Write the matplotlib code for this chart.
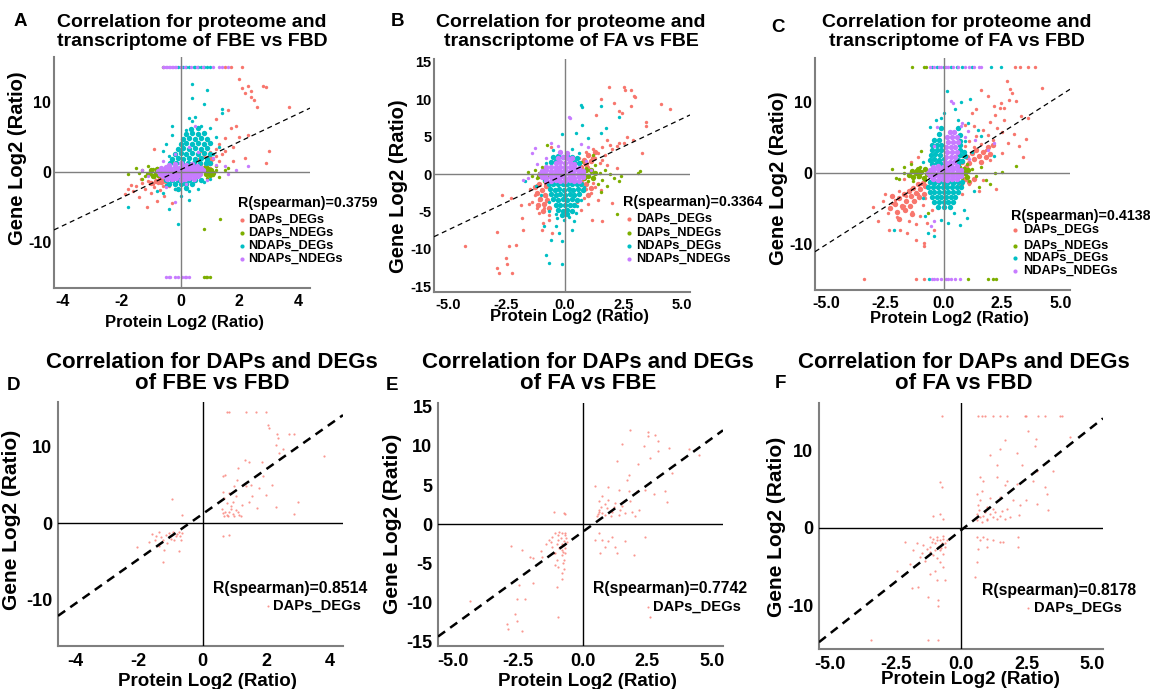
import numpy as np
import matplotlib
matplotlib.use('Agg')
import matplotlib.pyplot as plt
from matplotlib.lines import Line2D

plt.rcParams['font.family'] = ['Liberation Sans', 'DejaVu Sans']
plt.rcParams['font.weight'] = 'bold'
plt.rcParams['axes.unicode_minus'] = False

W, H = 1150, 689

RED = '#F8766D'
GREEN = '#7CAE00'
CYAN = '#00BFC4'
MAGENTA = '#C77CFF'

labels_4 = ['DAPs_DEGs', 'DAPs_NDEGs', 'NDAPs_DEGs', 'NDAPs_NDEGs']

# ---------------- panel A : FBE vs FBD (all genes) ----------------
a_red = [(-1.9,-3.2),(-1.8,-2.5),(-1.7,-1.9),(-1.6,-2.8),(-1.5,-2.0),(-1.4,-3.6),(-1.35,-1.0),(-1.3,-1.6),
         (-1.2,-2.4),(-1.15,-5.0),(-1.1,-1.3),(-1.05,-1.4),(-1.0,-3.0),(-0.95,-1.8),(-0.9,-2.2),(-0.9,3.3),
         (-0.85,-1.2),(-0.8,-4.1),(-0.75,-1.6),(-0.7,-2.6),(-0.7,-0.9),(-0.65,-1.0),(-0.6,-1.4),(-0.6,-2.0),
         (-0.55,-3.5),(-0.5,-1.8),(-0.45,-1.1),(-0.4,-2.0),(-0.3,-4.5),(-0.2,-2.5),
         (0.4,0.9),(0.5,1.2),(0.6,1.8),(0.7,1.1),(0.7,3.0),(0.8,2.4),(0.9,1.5),(0.9,4.5),(1.0,1.3),(1.0,2.8),
         (1.0,0.6),(1.1,1.9),(1.2,2.2),(1.2,3.2),(1.2,7.5),(1.3,1.6),(1.3,4.0),(1.4,2.6),(1.5,4.8),(1.5,3.0),
         (1.6,8.8),(1.7,6.3),(1.8,3.5),(1.8,1.5),(1.9,6.5),(2.0,5.0),(2.0,13.2),(2.1,12.0),(2.2,11.3),(2.2,2.0),
         (2.3,12.3),(2.3,5.3),(2.4,10.7),(2.4,11.5),(2.5,10.2),(2.6,9.3),(2.8,12.2),(2.9,12.1),(2.9,1.3),
         (3.0,3.0),(3.7,9.2),(1.5,15),(1.7,15),(2.1,15)]
a_red_core = [(-0.85,-1.3),(-0.7,-1.0),(-0.65,-1.5),(-0.55,-1.2),(-1.0,-1.6),(0.85,1.1),(0.95,1.5),
              (1.05,1.9),(1.0,1.2),(0.9,2.0)]
a_green = [(-1.8,-0.3),(-1.5,0.6),(-1.4,-0.2),(-1.3,0.2),(-1.3,-1.0),(-1.2,-0.6),(-1.1,0.8),(-1.0,-0.3),
           (-0.95,0.4),(-0.9,-0.8),(-0.85,0.1),(-0.8,0.6),(-0.75,-0.4),(-0.7,0.3),(-0.5,-0.5),(-0.3,1.5),
           (0.8,0.7),(0.9,-0.9),(0.95,-0.2),(1.0,0.4),(1.1,-0.4),(1.2,0.2),(1.2,0.9),(1.3,-0.7),(1.5,0.3),
           (1.6,0.6),(1.35,-6.8),(0.8,-8.2),(-0.6,15),(0.8,-15),(0.85,-15),(0.9,-15),(1.0,-15)]
a_green_core = [(-1.1,-0.3),(-1.0,0.2),(-0.95,-0.6),(-0.85,-0.1),(-0.8,0.4),(-0.75,-0.5),(-0.7,0.0),
                (0.8,0.3),(0.85,-0.3),(0.9,0.6),(0.95,0.0),(1.0,-0.5),(1.05,0.3),(1.1,-0.1)]
a_cyan = [(0.4,12.6),(0.9,11.7),(0.4,10.5),(0.8,9.7),(1.4,9.0),(1.4,8.4),(0.3,7.7),(0.5,7.8),(0.4,7.2),
          (-0.3,6.6),(1.0,6.3),(0.7,6.5),(0.2,6.0),(0.6,5.4),(-0.3,5.2),(1.2,5.0),(-0.5,4.0),(1.3,3.5),
          (-0.6,3.0),(1.1,2.5),(-0.4,2.2),(1.0,-1.0),(0.8,-1.5),(-0.5,-1.9),(-0.2,-2.4),(0.6,-2.5),
          (-0.8,-2.7),(0.3,-2.8),(-0.6,-3.0),(0.0,-3.5),(0.3,-4.0),(-0.4,-5.3),(-1.8,-5.0),(-0.1,-7.5),
          (-0.1,15),(0.0,15),(0.1,15),(0.2,15),(0.3,15),(0.45,15),(0.5,15),(0.6,15),(0.7,15),(0.8,15),(0.9,15),(1.0,15)]
a_cyan_core = [(-0.35,1.2),(-0.15,1.3),(0.05,1.2),(0.25,1.3),(0.45,1.2),(0.65,1.3),(0.85,1.2),(1.0,1.3),
               (-0.3,1.9),(-0.1,2.0),(0.1,1.9),(0.3,2.0),(0.5,1.9),(0.7,2.0),(0.9,1.9),
               (-0.2,2.6),(0.0,2.7),(0.2,2.6),(0.4,2.7),(0.6,2.6),(0.8,2.7),(1.0,2.6),
               (-0.1,3.3),(0.1,3.4),(0.3,3.3),(0.5,3.4),(0.7,3.3),(0.9,3.4),
               (0.0,4.0),(0.2,4.1),(0.4,4.0),(0.6,4.1),(0.8,4.0),(1.0,4.1),
               (0.1,4.7),(0.3,4.8),(0.5,4.7),(0.7,4.8),(0.9,4.7),
               (0.2,5.4),(0.4,5.5),(0.6,5.4),(0.8,5.5),(0.35,6.1),(0.6,6.2),
               (-0.5,-1.1),(-0.3,-1.2),(-0.1,-1.1),(0.1,-1.2),(0.3,-1.1),(0.5,-1.2),(0.7,-1.1),
               (-0.4,-1.7),(-0.2,-1.8),(0.0,-1.7),(0.2,-1.8),(0.4,-1.7),(-0.1,-2.4),(0.2,-2.3)]
a_magenta = [(-0.6,15),(-0.55,15),(-0.5,15),(-0.45,15),(-0.4,15),(-0.35,15),(-0.3,15),(-0.25,15),(-0.2,15),
             (-0.15,15),(0.0,15),(0.15,15),(0.35,15),(0.55,15),(0.75,15),(1.1,15),(1.3,15),(1.4,15),(1.6,15),
             (-0.5,-15),(-0.4,-15),(-0.35,-15),(-0.2,-15),(-0.1,-15),(0.05,-15),(0.15,-15),(0.2,-15),(0.3,-15),
             (1.5,0.8),(2.3,0.8),(1.6,-0.3),(1.1,2.0),(0.5,6.5),(-0.6,1.6),(-1.3,0.2),(-0.5,-2.2),(0.9,-1.2),
             (0.3,3.5),(0.6,2.8),(-0.2,2.6),(1.2,1.0),(1.9,0.3),(-1.1,-0.6),(0.2,-1.8),(-0.2,-4.3)]
a_magenta_core = [(-0.4,1.0),(-0.2,1.1),(0.0,1.2),(0.2,1.0),(0.4,1.1),(0.55,0.9),
                  (-0.65,0.5),(-0.5,0.7),(-0.35,0.6),(-0.2,0.7),(-0.05,0.6),(0.1,0.7),(0.25,0.6),(0.4,0.7),(0.55,0.6),(0.7,0.5),
                  (-0.75,0.1),(-0.6,0.25),(-0.45,0.2),(-0.3,0.15),(-0.15,0.25),(0.0,0.2),(0.15,0.15),(0.3,0.25),(0.45,0.2),(0.6,0.15),(0.75,0.25),
                  (-0.7,-0.25),(-0.55,-0.2),(-0.4,-0.15),(-0.25,-0.25),(-0.1,-0.2),(0.05,-0.15),(0.2,-0.25),(0.35,-0.2),(0.5,-0.15),(0.65,-0.25),
                  (-0.6,-0.6),(-0.45,-0.65),(-0.3,-0.55),(-0.15,-0.65),(0.0,-0.6),(0.15,-0.55),(0.3,-0.65),(0.45,-0.6),(0.6,-0.55),
                  (-0.45,-1.0),(-0.3,-1.05),(-0.15,-0.95),(0.0,-1.1),(0.15,-1.0),(0.3,-0.95),(0.45,-1.05)]

# ---------------- panel B : FA vs FBE (all genes) ----------------
b_red = [(1.88,11.7),(2.52,11.6),(2.56,11.2),(2.8,11.3),(2.95,10.5),(2.99,10.3),(1.55,10.1),(2.1,9.5),
         (2.8,9.15),(2.45,8.2),(4.09,9.4),(4.47,8.75),(1.31,7.9),(2.3,8.4),(3.45,7.0),(3.45,6.4),(3.3,2.8),
         (2.66,5.0),(2.3,4.2),(2.0,3.3),(1.6,1.9),(2.0,-3.9),(1.17,-6.1),(1.6,-6.25),(-4.27,-9.7),(-2.9,-7.7),
         (-2.4,-9.6),(-2.1,-9.5),(-2.53,-11.3),(-2.46,-12.1),(-2.89,-12.6),(-2.82,-13.3),(-2.25,-13.3),
         (-2.68,-2.8),(-2.32,-3.2),(-1.9,-4.1),(-1.82,-5.9),(-1.8,-7.5),(-1.54,-4.0),(-1.1,-5.2),(-0.97,-7.5),
         (-0.54,-7.9),(-0.68,-6.1),(-1.5,-2.0),(-1.3,-2.8),(-1.2,-1.5),(-1.1,-3.5),(-1.0,-2.2),(-0.9,-4.5),
         (-0.85,-1.2),(-0.8,-3.0),(-0.7,-5.5),(-0.65,-2.0),(-1.4,-3.8),(-0.95,-6.5),(-1.2,-4.6),(0.6,-2.5),
         (0.7,-1.5),(0.8,-3.2),(0.9,-2.0),(1.0,-4.0),(1.1,-2.6),(1.2,-1.2),(0.6,2.2),(0.8,1.5),(0.9,3.0),
         (1.0,2.4),(1.1,1.8),(1.2,3.4),(1.3,2.2),(1.4,2.8),(1.5,1.5),(1.6,3.6),(1.7,2.5),(1.0,1.0),(1.8,4.6),
         (1.9,3.9),(2.2,3.7),(2.5,4.2),(1.4,-3.5),(1.55,-2.2),(0.7,-4.8),(2.9,4.6),(-0.6,3.6),(1.3,-1.8),
         (0.5,-3.8),(1.8,1.2),(2.2,0.8)]
b_red_core = [(-1.3,-1.8),(-1.2,-2.6),(-1.1,-1.4),(-1.05,-3.3),(-1.0,-2.1),(-0.9,-4.0),(-0.85,-2.8),
              (-0.8,-1.6),(-0.75,-3.5),(-0.7,-4.6),(-0.95,-5.0),(-1.15,-4.2),
              (0.7,1.0),(0.8,1.9),(0.9,1.3),(1.0,2.6),(1.1,1.7),(1.2,2.2),(1.3,3.0),
              (0.7,-1.1),(0.8,-2.0),(0.9,-1.4),(1.0,-2.8),(1.1,-1.9)]
b_green = [(-1.6,0.3),(-1.4,-0.2),(-1.3,0.5),(-1.2,-0.6),(-1.1,0.2),(-1.0,1.0),(-0.9,-0.9),(-0.85,0.3),
           (-0.7,-0.3),(-0.78,3.9),(0.6,0.4),(0.7,1.6),(0.8,-0.3),(0.9,0.8),(1.0,-1.0),(1.1,0.3),(1.2,-0.5),
           (1.2,2.5),(1.3,1.2),(1.4,-1.4),(1.5,0.2),(1.6,-0.8),(1.7,0.5),(1.8,-1.6),(1.9,0.0),(2.1,-0.5),
           (2.3,-0.9),(2.4,-0.3),(1.55,-2.4),(3.1,0.2),(3.2,0.4),(2.2,-5.3)]
b_green_core = [(-1.1,-0.3),(-1.0,0.3),(-0.9,-0.4),(-0.85,0.5),(0.7,0.2),(0.8,-0.5),(0.9,0.5),(1.0,-0.2),
                (1.1,0.6),(1.2,-0.6),(1.3,0.2)]
b_cyan = [(0.67,9.3),(0.74,9.0),(1.52,9.1),(2.3,7.7),(0.71,6.5),(-0.11,5.3),(0.46,5.5),(1.0,4.8),(1.52,5.5),
          (1.74,6.2),(-1.25,-1.65),(-1.04,-2.8),(-0.61,-8.8),(-0.4,-7.0),(-0.04,-6.1),(0.31,-7.5),
          (-0.83,-10.8),(-0.68,-11.9),(-0.11,-12.1),(-0.9,-7.0),(0.46,-5.2),(0.17,-5.7),(-0.33,-5.9),
          (-0.26,-7.9),(-0.5,3.2),(0.3,3.3),(0.6,2.8),(-0.8,1.5),(-0.9,-0.8),(0.8,-1.8),(0.7,-3.5),
          (-0.7,-3.8),(0.5,-4.3),(-0.4,-5.4),(0.4,-6.3),(-0.7,-5.0),(-1.7,-1.0),(-0.15,-9.0)]
b_cyan_core = [(-0.5,2.3),(-0.3,2.4),(-0.1,2.3),(0.1,2.4),(0.3,2.3),(0.5,2.2),
               (-0.6,1.6),(-0.4,1.7),(0.4,1.6),(0.6,1.5),
               (-0.7,-1.3),(-0.5,-1.4),(-0.3,-1.3),(-0.1,-1.4),(0.1,-1.3),(0.3,-1.4),(0.5,-1.3),(0.7,-1.4),
               (-0.65,-2.0),(-0.45,-2.1),(-0.25,-2.0),(-0.05,-2.1),(0.15,-2.0),(0.35,-2.1),(0.55,-2.0),(0.75,-2.1),
               (-0.6,-2.7),(-0.4,-2.8),(-0.2,-2.7),(0.0,-2.8),(0.2,-2.7),(0.4,-2.8),(0.6,-2.7),
               (-0.5,-3.4),(-0.3,-3.5),(-0.1,-3.4),(0.1,-3.5),(0.3,-3.4),(0.5,-3.5),
               (-0.4,-4.1),(-0.2,-4.2),(0.0,-4.1),(0.2,-4.2),(0.4,-4.1),
               (-0.3,-4.8),(-0.1,-4.9),(0.1,-4.8),(0.3,-4.9),(-0.15,-5.5),(0.1,-5.4)]
b_magenta = [(-1.3,3.5),(-1.4,2.8),(-0.6,4.2),(0.17,7.7),(0.2,7.5),(-0.3,3.8),(0.7,4.0),(1.0,3.6),
             (-1.6,-0.5),(-1.2,1.4),(1.1,0.5),(-0.8,2.2),(0.9,1.8),(-1.8,-0.8)]
b_magenta_core = [(-0.8,0.9),(-0.6,1.0),(-0.4,0.9),(-0.2,1.0),(0.0,0.9),(0.2,1.0),(0.4,0.9),(0.6,0.8),
                  (-1.0,0.4),(-0.8,0.5),(-0.6,0.45),(-0.4,0.5),(-0.2,0.4),(0.0,0.5),(0.2,0.45),(0.4,0.5),(0.6,0.4),(0.75,0.45),
                  (-1.05,0.0),(-0.85,0.05),(-0.65,0.0),(-0.45,0.05),(-0.25,0.0),(-0.05,0.05),(0.15,0.0),(0.35,0.05),(0.55,0.0),(0.75,0.05),
                  (-1.0,-0.45),(-0.8,-0.5),(-0.6,-0.4),(-0.4,-0.5),(-0.2,-0.45),(0.0,-0.5),(0.2,-0.4),(0.4,-0.5),(0.6,-0.45),(0.75,-0.4),
                  (-0.8,-0.9),(-0.6,-0.95),(-0.4,-0.85),(-0.2,-0.95),(0.0,-0.9),(0.2,-0.85),(0.4,-0.95),(0.6,-0.9),
                  (-0.4,1.5),(-0.2,1.6),(0.0,1.5),(0.2,1.6),(0.4,1.4),(-0.3,2.2),(-0.1,2.3),(0.1,2.2),(0.3,2.1),
                  (-0.2,2.9),(0.1,2.8)]

# ---------------- panel C : FA vs FBD (all genes) ----------------
c_red = [(0.5,1.5),(0.6,2.5),(0.7,3.2),(0.8,1.8),(0.9,3.8),(1.0,2.2),(1.1,4.5),(1.2,2.9),(1.3,3.6),(1.4,5.2),
         (1.5,2.4),(1.6,4.1),(1.7,6.0),(1.8,3.3),(1.9,5.4),(2.0,7.2),(2.1,4.6),(2.2,8.1),(2.3,6.4),(2.4,9.2),
         (2.5,5.8),(2.6,7.5),(2.7,12.9),(2.85,11.8),(2.9,11.3),(2.8,10.3),(2.45,9.9),(2.15,9.4),(1.6,11.7),
         (1.9,10.8),(3.3,8.0),(3.6,7.7),(3.4,2.3),(3.2,3.8),(2.75,4.2),(2.25,-2.3),(4.2,12.0),(1.2,8.4),
         (1.4,9.0),(0.9,6.8),(2.0,1.8),(2.5,2.8),(1.1,-1.5),(1.5,-2.5),(0.8,-3.0),(3.0,5.5),(3.5,4.8),
         (1.7,-1.0),(1.3,6.6),(2.6,9.2),(3.1,10.2),
         (-2.5,-3.0),(-2.4,-5.6),(-2.35,-8.0),(-2.2,-4.2),(-2.1,-3.8),(-2.0,-6.2),(-1.9,-2.5),(-1.85,-8.0),
         (-1.8,-5.0),(-1.7,-4.7),(-1.6,-3.2),(-1.55,-8.5),(-1.5,-6.8),(-1.4,-2.2),(-1.35,-5.5),(-1.3,-4.0),
         (-1.2,-7.2),(-1.1,-3.0),(-1.0,-6.0),(-0.95,-1.6),(-0.9,-4.5),(-0.85,-10.3),(-0.85,-9.9),(-0.8,-3.5),
         (-0.7,-7.0),(-0.6,-2.6),(-0.5,-5.2),(-3.0,-4.8),(-2.8,-6.8),(-2.6,-3.9),(-1.2,-9.4),(-0.4,-8.0),
         (-1.7,-0.8),(-0.3,-2.0),(-1.1,2.2),(-1.4,1.5),
         (3.03,15),(3.25,15),(3.6,15),(3.9,15),(-3.4,-15),(-1.19,-15),(-0.83,-15)]
c_red_core = [(-2.3,-5.0),(-2.1,-4.4),(-2.0,-5.5),(-1.9,-3.6),(-1.8,-4.6),(-1.7,-3.0),(-1.65,-5.2),
              (-1.6,-3.9),(-1.5,-2.6),(-1.45,-4.6),(-1.4,-3.3),(-1.3,-2.1),(-1.25,-4.0),(-1.2,-2.8),
              (-1.1,-1.6),(-1.05,-3.4),(-1.0,-2.3),(-0.9,-1.4),(-0.85,-2.9),(-0.8,-1.9),(-1.35,-5.8),
              (-1.9,-6.5),(-2.2,-3.3),
              (0.65,0.9),(0.8,1.5),(0.95,0.9),(1.0,2.2),(1.1,1.4),(1.2,2.8),(1.3,1.9),(1.4,3.3),(1.5,2.4),
              (1.6,1.5),(1.7,3.0),(1.8,2.2),(1.9,3.6),(2.0,2.6),(2.1,4.0),(0.9,-0.9),(1.1,-1.3),(0.75,-1.6),
              (1.3,-0.8)]
c_green = [(-2.2,0.5),(-2.05,-0.7),(-1.9,-0.8),(-1.7,0.9),(-1.69,0.0),(-1.5,-0.2),(-1.4,1.2),(-1.3,-1.2),
           (-1.2,0.4),(-1.1,-0.6),(-1.0,0.8),(-0.97,3.05),(-0.8,-1.0),(0.7,0.8),(0.8,-0.7),(0.9,0.3),(1.0,1.2),
           (1.1,-1.1),(1.2,0.5),(1.4,-0.5),(1.6,0.9),(1.8,-1.0),(2.2,0.0),(2.5,0.2),(3.1,1.0),(2.0,-1.5),
           (1.5,-2.0),(-0.69,-5.6),(-1.37,15),(-0.83,15),(-0.75,15),(1.03,-15),(1.89,-15),(2.1,-15),(2.25,-15)]
c_green_core = [(-1.5,-0.3),(-1.35,0.3),(-1.3,-0.6),(-1.2,0.0),(-1.1,0.6),(-1.05,-0.5),(-0.95,0.1),
                (-0.85,-0.7),(-0.8,0.5),(-0.7,-0.1),(0.65,0.3),(0.75,-0.4),(0.85,0.6),(0.9,0.0),(1.0,-0.6),(1.05,0.4)]
c_cyan = [(0.14,11.5),(1.14,10.4),(0.72,9.95),(-0.33,7.4),(-0.11,7.7),(1.03,7.0),(1.46,6.1),(1.6,5.2),
          (2.17,2.35),(-2.12,-8.0),(-0.69,-8.5),(-0.4,-8.9),(-0.11,-6.6),(0.46,-5.6),(0.89,-5.2),(-0.8,-6.0),
          (0.7,-7.3),(-0.6,6.5),(0.6,7.5),(0.9,4.5),(1.2,3.0),(-0.9,1.5),(1.3,-2.5),(-0.9,-3.5),(0.2,-7.0),
          (1.0,-6.4),(0.0,8.5),(0.5,9.0),
          (-0.5,15),(-0.3,15),(0.0,15),(0.3,15),(0.55,15),(0.8,15),(1.2,15),(2.03,15),(2.46,15),(-0.62,-15)]
c_cyan_core = [(-0.4,4.6),(-0.2,4.7),(0.7,4.5),(-0.5,3.9),(-0.3,4.0),(-0.1,3.9),(0.7,3.9),
               (-0.5,3.2),(-0.3,3.3),(-0.1,3.2),(0.7,3.2),(0.85,3.0),(-0.55,2.5),(-0.35,2.6),(-0.15,2.5),
               (0.7,2.5),(0.9,2.4),(-0.6,1.8),(-0.4,1.9),(-0.2,1.8),(0.0,1.9),(0.6,1.8),(0.8,1.7),
               (-0.5,1.3),(-0.3,1.35),(-0.1,1.3),(0.6,1.3),(-0.2,5.5),(0.7,5.3),(-0.1,6.3),(0.6,6.4),
               (-0.6,-1.3),(-0.4,-1.35),(-0.2,-1.3),(0.0,-1.35),(0.2,-1.3),(0.4,-1.35),(0.6,-1.3),(0.8,-1.25),
               (-0.65,-2.0),(-0.45,-2.05),(-0.25,-2.0),(-0.05,-2.05),(0.15,-2.0),(0.35,-2.05),(0.55,-2.0),(0.75,-2.0),
               (-0.6,-2.7),(-0.4,-2.75),(-0.2,-2.7),(0.0,-2.75),(0.2,-2.7),(0.4,-2.75),(0.6,-2.7),
               (-0.5,-3.4),(-0.3,-3.45),(-0.1,-3.4),(0.1,-3.45),(0.3,-3.4),(0.5,-3.45),
               (-0.4,-4.1),(-0.2,-4.15),(0.0,-4.1),(0.2,-4.15),(0.4,-4.1),(-0.25,-4.8),(0.0,-4.85),(0.25,-4.8)]
c_magenta = [(0.31,10.1),(0.4,9.9),(0.74,6.6),(1.03,5.9),(1.32,4.7),(1.89,3.3),(2.17,4.2),(-0.54,-7.5),
             (-0.4,-6.8),(-0.3,6.5),(0.8,7.0),(0.9,5.0),(-0.4,3.8),(1.1,2.0),
             (-0.6,15),(-0.4,15),(-0.2,15),(-0.1,15),(0.1,15),(0.2,15),(0.4,15),(0.6,15),(0.9,15),(1.1,15),
             (1.3,15),(1.5,15),(1.6,15),
             (-0.5,-15),(-0.4,-15),(-0.3,-15),(-0.1,-15),(0.1,-15),(0.2,-15),(0.3,-15),(0.5,-15),(0.7,-15)]
c_magenta_core = [(-0.45,0.9),(-0.25,1.0),(-0.05,0.9),(0.15,1.0),(0.35,0.9),(0.55,0.95),
                  (-0.6,0.45),(-0.4,0.5),(-0.2,0.4),(0.0,0.5),(0.2,0.45),(0.4,0.5),(0.6,0.4),(0.75,0.45),
                  (-0.65,0.0),(-0.45,0.05),(-0.25,0.0),(-0.05,0.05),(0.15,0.0),(0.35,0.05),(0.55,0.0),(0.75,0.05),
                  (-0.6,-0.45),(-0.4,-0.5),(-0.2,-0.4),(0.0,-0.5),(0.2,-0.45),(0.4,-0.5),(0.6,-0.4),(0.75,-0.45),
                  (-0.45,-0.9),(-0.25,-0.95),(-0.05,-0.85),(0.15,-0.95),(0.35,-0.9),(0.55,-0.85),
                  (0.05,1.5),(0.25,1.6),(0.45,1.5),(0.1,2.2),(0.3,2.3),(0.5,2.2),(0.15,2.9),(0.35,3.0),(0.55,2.9),
                  (0.1,3.6),(0.3,3.7),(0.5,3.6),(0.2,4.3),(0.4,4.4),(0.6,4.3),(0.15,5.0),(0.35,5.1),(0.55,5.0),
                  (0.25,5.7),(0.45,5.8)]

# ---------------- panel D : DAPs and DEGs, FBE vs FBD ----------------
d_pts = [(0.75,14.5),(0.84,14.5),(1.36,14.5),(1.67,14.5),(1.99,14.5),(2.04,12.8),(2.09,12.4),(2.32,11.6),
         (2.35,11.1),(2.72,11.6),(2.87,11.6),(2.3,10.2),(2.38,9.1),(2.53,9.65),(3.79,8.8),(1.33,8.3),
         (1.46,8.0),(1.86,8.0),(1.1,7.2),(0.63,6.2),(0.71,6.3),(1.08,5.65),(1.88,6.1),(2.19,5.0),(1.78,4.6),
         (1.52,5.0),(1.36,4.8),(0.99,4.8),(0.63,4.1),(0.84,3.9),(1.04,3.5),(1.46,2.8),(1.72,1.96),(2.98,2.8),
         (2.87,1.2),(2.0,3.7),(0.63,1.3),(0.68,0.96),(0.84,1.5),(0.94,1.2),(1.04,1.7),(1.15,1.1),(0.9,2.3),
         (0.75,2.6),(1.25,2.4),(0.63,-1.65),(0.84,-1.5),(-0.96,3.1),(-0.65,1.1),(-2.07,-3.1),(-1.67,-2.4),
         (-1.57,-1.4),(-1.46,-1.7),(-1.36,-1.2),(-1.25,-2.2),(-1.15,-1.5),(-1.04,-1.3),(-0.94,-1.1),
         (-0.84,-1.7),(-0.73,-1.2),(-0.63,-1.3),(-0.68,-2.2),(-0.75,-3.6),(-1.23,-5.0),(-1.36,-3.0),
         (-1.1,-2.6),(-1.0,-2.0),(-1.5,-2.2),(-0.89,-2.2),(-1.22,-3.5),(0.6,1.8),(0.7,1.4),(0.8,1.0),
         (0.9,1.9),(1.0,1.0),(1.1,1.5),(0.75,1.1),(1.2,0.9),(0.66,3.3),(1.55,3.6),(2.3,2.1),(0.95,2.8),
         (-0.8,-1.4),(-1.3,-1.8),(-0.7,-1.6)]

# ---------------- panel E : DAPs and DEGs, FA vs FBE ----------------
e_pts = [(1.84,12.0),(2.51,11.85),(2.51,11.3),(2.78,11.4),(2.9,10.7),(1.52,10.3),(2.36,10.0),(3.32,9.7),
         (4.09,9.6),(4.48,8.8),(2.9,9.4),(2.61,8.4),(1.33,8.1),(2.14,7.7),(1.78,6.25),(1.71,5.7),(3.45,6.5),
         (0.49,4.9),(1.0,4.7),(1.39,4.4),(1.78,4.2),(2.1,4.2),(2.42,4.4),(2.74,3.8),(3.19,4.3),(3.26,2.8),
         (2.16,1.85),(1.84,2.9),(0.62,2.9),(0.75,3.6),(1.0,3.1),(1.26,2.7),(1.52,2.3),(0.62,1.85),(0.75,1.4),
         (0.88,1.2),(1.13,1.6),(1.39,1.2),(1.65,1.4),(2.03,1.0),(0.55,1.0),(0.7,2.2),(0.95,2.0),(1.2,2.2),
         (1.45,1.8),(0.6,1.3),(0.85,2.6),(1.1,1.0),(0.65,1.6),(1.6,3.0),(1.9,1.6),
         (0.62,-1.2),(0.75,-2.0),(0.88,-2.9),(1.0,-2.2),(1.13,-1.6),(0.68,-3.75),(1.26,-2.9),(1.65,-2.2),
         (1.97,-4.0),(2.42,-1.6),(1.33,-3.75),(0.49,-2.0),
         (-1.12,1.6),(-0.73,1.4),(-0.67,1.3),(-2.77,-2.8),(-2.34,-3.3),(-2.02,-4.2),(-1.9,-4.4),(-1.57,-4.2),
         (-1.31,-2.0),(-1.18,-1.6),(-1.06,-1.2),(-0.93,-1.4),(-0.8,-1.2),(-0.67,-1.4),(-1.18,-2.9),
         (-1.06,-3.75),(-0.99,-4.6),(-0.93,-5.5),(-0.8,-6.3),(-0.99,-8.1),(-0.8,-7.0),(-1.9,-7.6),
         (-2.47,-7.8),(-4.34,-9.8),(-2.53,-9.6),(-2.21,-9.6),(-2.6,-11.5),(-2.53,-12.4),(-2.92,-12.8),
         (-2.88,-13.4),(-2.34,-13.7),(-0.93,-11.9),(2.61,-11.9),(-0.86,-2.9),(-0.73,-2.2),(-0.67,-3.75),
         (-0.7,-4.6),(-0.8,-3.3),(-0.93,-2.0),(-1.12,-3.75),(-0.75,-5.0),(-0.7,-2.7),(-0.85,-1.8),
         (-1.0,-2.5),(-0.9,-3.0),(-0.75,-3.6),(-1.2,-2.3),(-1.4,-2.6),(-1.6,-3.4),(-0.65,-1.8),(-0.8,-4.0),
         (-0.72,-5.7),(-0.62,-2.3),(-1.05,-5.2),(-0.68,-1.1),(-0.9,-1.0),(-0.78,-2.5),(-0.66,-3.0)]

# ---------------- panel F : DAPs and DEGs, FA vs FBD ----------------
f_pts = [(-0.74,14.4),(0.66,14.4),(0.79,14.4),(0.92,14.4),(1.23,14.4),(1.49,14.4),(1.74,14.4),(2.44,14.4),
         (2.5,14.4),(2.95,14.4),(3.21,14.4),(3.78,14.4),(3.84,14.4),(-3.44,-14.4),(-1.25,-14.4),(-0.87,-14.4),
         (2.57,12.5),(2.86,11.4),(1.68,11.3),(4.16,11.7),(1.49,10.2),(2.82,10.6),(2.12,9.6),(1.11,9.4),
         (2.32,8.1),(1.36,8.1),(3.52,7.4),(0.73,6.6),(0.85,6.1),(1.36,6.6),(1.74,6.1),(1.68,5.5),(2.12,5.7),
         (2.76,6.1),(2.89,7.4),(3.21,5.3),(3.27,4.4),(3.33,2.3),(2.89,3.1),(2.5,3.6),(0.6,4.4),(0.73,3.6),
         (1.11,3.8),(1.49,4.0),(2.0,3.6),(2.25,2.9),(0.98,2.7),(1.23,2.5),(1.74,2.5),(0.6,1.85),(0.73,1.4),
         (0.85,1.6),(0.98,1.2),(1.11,1.85),(1.23,1.4),(1.36,1.2),(1.49,1.6),(1.68,1.2),(1.87,1.4),(0.6,1.0),
         (0.79,0.8),(0.7,2.3),(0.9,2.1),(1.3,2.0),(0.65,3.0),(1.0,1.0),(1.55,2.2),(2.2,1.7),(0.8,4.8),
         (-0.8,5.9),(-0.74,5.3),(-1.06,1.6),(-0.8,1.85),(-0.67,1.2),
         (0.6,-1.2),(0.73,-1.6),(0.85,-1.2),(0.98,-1.4),(1.23,-1.6),(1.49,-1.8),(0.98,-2.4),(0.66,-2.7),
         (0.6,-4.4),(0.53,-6.3),(2.19,-1.2),(2.19,-2.4),(1.62,-1.8),
         (-2.14,-1.8),(-2.46,-5.5),(-1.95,-4.6),(-1.56,-3.7),(-1.88,-7.8),(-1.63,-7.6),(-1.25,-8.9),
         (-0.87,-9.3),(-0.87,-10.0),(-1.18,-5.9),(-0.93,-6.7),(-0.61,-6.7),(-1.44,-2.2),(-1.31,-2.7),
         (-1.18,-3.1),(-1.06,-3.5),(-0.93,-3.9),(-0.8,-4.4),(-0.67,-5.0),(-0.99,-5.5),(-1.69,-2.0),
         (-1.82,-2.9),(-1.37,-4.2),(-1.18,-1.2),(-1.06,-1.4),(-0.93,-1.2),(-0.8,-1.6),(-0.67,-1.4),
         (-0.74,-2.0),(-0.87,-2.4),(-0.99,-2.0),(-1.12,-1.8),(-0.61,-2.4),(-0.67,-3.3),(-0.8,-2.9),
         (-0.55,-1.6),(-0.7,-1.1),(-0.9,-1.6),(-1.0,-2.8),(-0.75,-2.6),(-0.6,-1.9),(-1.2,-2.4),(-1.5,-3.2)]

# spearman values and fitted lines (slope, intercept)
r_values = ['0.3759', '0.3364', '0.4138', '0.8514', '0.7742', '0.8178']
fits = [(2.0, 0.3), (1.49, -0.05), (2.1, 0.45), (2.93, 1.2), (2.4, -1.0), (2.66, -0.3)]

titles_top = ['Correlation for proteome and\ntranscriptome of FBE vs FBD',
              'Correlation for proteome and\ntranscriptome of FA vs FBE',
              'Correlation for proteome and\ntranscriptome of FA vs FBD']
titles_bot = ['Correlation for DAPs and DEGs\nof FBE vs FBD',
              'Correlation for DAPs and DEGs\nof FA vs FBE',
              'Correlation for DAPs and DEGs\nof FA vs FBD']

fig = plt.figure(figsize=(W / 100, H / 100), dpi=100)


def fx(px):
    return px / W


def fy(py):
    return 1 - py / H


def make_ax(l, t, r, b, xlim, ylim, xt, xtl, yt, top, fs):
    ax = fig.add_axes([l / W, 1 - b / H, (r - l) / W, (b - t) / H])
    ax.set_xlim(*xlim)
    ax.set_ylim(*ylim)
    ax.set_xticks(xt)
    ax.set_xticklabels(xtl)
    ax.set_yticks(yt)
    ax.set_yticklabels([str(v) for v in yt])
    for s in ['top', 'right']:
        ax.spines[s].set_visible(False)
    for s in ['left', 'bottom']:
        ax.spines[s].set_color('#7f7f7f')
        ax.spines[s].set_linewidth(1.5)
    ax.tick_params(axis='both', length=0, labelsize=fs)
    ax.tick_params(axis='x', pad=4 if top else 5)
    ax.tick_params(axis='y', pad=2 if top else 4)
    zc = '#7f7f7f' if top else 'black'
    ax.axhline(0, color=zc, lw=1.0, zorder=4)
    ax.axvline(0, color=zc, lw=1.0, zorder=4)
    return ax


def scat(ax, pts, col, s, alpha=1.0):
    arr = np.array(pts)
    ax.scatter(arr[:, 0], arr[:, 1], s=s, c=col, linewidths=0, alpha=alpha, zorder=3)


top_boxes = [(54, 57, 310, 288), (434, 59, 690, 292), (815, 58, 1070, 290)]
bot_boxes = [(58, 402, 343, 646), (438, 403, 723, 646), (819, 403, 1103, 649)]
top_lims = [((-4.3, 4.4), (-16.6, 16.4)), ((-5.6, 5.34), (-15.8, 15.4)), ((-5.5, 5.4), (-16.5, 16.2))]
bot_lims = [((-4.53, 4.4), (-16.0, 15.8)), ((-5.58, 5.42), (-15.6, 15.5)), ((-5.42, 5.42), (-15.6, 16.1))]
xt4 = [-4, -2, 0, 2, 4]
xt5 = [-5, -2.5, 0, 2.5, 5]
xt5l = ['-5.0', '-2.5', '0.0', '2.5', '5.0']
top_ticks = [(xt4, [str(v) for v in xt4], [-10, 0, 10]),
             (xt5, xt5l, [-15, -10, -5, 0, 5, 10, 15]),
             (xt5, xt5l, [-10, 0, 10])]
bot_ticks = top_ticks
top_tick_fs = [11.5, 10.5, 11.5]

top_data = [
    [(a_red, a_red_core, RED), (a_green, a_green_core, GREEN), (a_cyan, a_cyan_core, CYAN), (a_magenta, a_magenta_core, MAGENTA)],
    [(b_red, b_red_core, RED), (b_green, b_green_core, GREEN), (b_cyan, b_cyan_core, CYAN), (b_magenta, b_magenta_core, MAGENTA)],
    [(c_red, c_red_core, RED), (c_green, c_green_core, GREEN), (c_cyan, c_cyan_core, CYAN), (c_magenta, c_magenta_core, MAGENTA)],
]
bot_data = [d_pts, e_pts, f_pts]

# label / title positions in pixels
top_title_pos = [(192, 32), (571, 32), (957, 32)]
bot_title_pos = [(212, 373), (588, 373), (964, 373)]
top_letters = [('A', 20, 22), ('B', 398, 22), ('C', 778, 27)]
bot_letters = [('D', 14, 385), ('E', 392, 385), ('F', 780, 384)]
top_xlab = [(185, 322), (569, 317), (950, 319)]
top_ylab = [(18, 158), (399, 186), (779, 178)]
bot_xlab = [(207, 682), (587, 682), (970, 680)]
bot_ylab = [(12, 520), (393, 524), (776, 527)]
top_leg = [(238, 203, 242, 248, [220, 233, 246, 259]),
           (623, 202, 629, 636, [219, 233, 246, 259]),
           (1011, 216, 1015, 1023, [230, 246, 258, 271])]
bot_leg = [(213, 588, 268, 273, 606), (593, 588, 648, 653, 607), (982, 590, 1028, 1034, 608)]

# top row
for i in range(3):
    l, t, r, b = top_boxes[i]
    xt, xtl, yt = top_ticks[i]
    ax = make_ax(l, t, r, b, top_lims[i][0], top_lims[i][1], xt, xtl, yt, True, top_tick_fs[i])
    for pts, core, col in top_data[i]:
        scat(ax, core, col, 15)
        scat(ax, pts, col, 6)
    m, c0 = fits[i]
    ax.axline((0, c0), slope=m, color='black', lw=0.9, ls=(0, (4, 3)), zorder=5)
    fig.text(fx(top_title_pos[i][0]), fy(top_title_pos[i][1]), titles_top[i], ha='center', va='center',
             fontsize=14, fontweight='bold', linespacing=1.1)
    let, lx, ly = top_letters[i]
    fig.text(fx(lx), fy(ly), let, ha='center', va='center', fontsize=13.5, fontweight='bold')
    fig.text(fx(top_xlab[i][0]), fy(top_xlab[i][1]), 'Protein Log2 (Ratio)', ha='center', va='center',
             fontsize=12, fontweight='bold')
    fig.text(fx(top_ylab[i][0]), fy(top_ylab[i][1]), 'Gene Log2 (Ratio)', ha='center', va='center',
             rotation=90, fontsize=14.5, fontweight='bold')
    tx, ty, dx, lx2, ys = top_leg[i]
    fig.text(fx(tx), fy(ty), 'R(spearman)=' + r_values[i], ha='left', va='center', fontsize=10.3, fontweight='bold')
    for (pts, core, col), lab, yy in zip(top_data[i], labels_4, ys):
        fig.add_artist(Line2D([fx(dx)], [fy(yy)], marker='o', ms=3, color=col, mew=0, transform=fig.transFigure))
        fig.text(fx(lx2), fy(yy), lab, ha='left', va='center', fontsize=9.2, fontweight='bold')

# bottom row
for i in range(3):
    l, t, r, b = bot_boxes[i]
    xt, xtl, yt = bot_ticks[i]
    ax = make_ax(l, t, r, b, bot_lims[i][0], bot_lims[i][1], xt, xtl, yt, False, 13)
    scat(ax, bot_data[i], RED, 2.5, alpha=0.75)
    m, c0 = fits[i + 3]
    ax.axline((0, c0), slope=m, color='black', lw=1.8, ls=(0, (3.5, 2.5)), zorder=5)
    fig.text(fx(bot_title_pos[i][0]), fy(bot_title_pos[i][1]), titles_bot[i], ha='center', va='center',
             fontsize=16, fontweight='bold', linespacing=1.05)
    let, lx, ly = bot_letters[i]
    fig.text(fx(lx), fy(ly), let, ha='center', va='center', fontsize=13.5, fontweight='bold')
    fig.text(fx(bot_xlab[i][0]), fy(bot_xlab[i][1]), 'Protein Log2 (Ratio)', ha='center', va='center',
             fontsize=13.5, fontweight='bold')
    fig.text(fx(bot_ylab[i][0]), fy(bot_ylab[i][1]), 'Gene Log2 (Ratio)', ha='center', va='center',
             rotation=90, fontsize=15, fontweight='bold')
    tx, ty, dx, lx2, yy = bot_leg[i]
    fig.text(fx(tx), fy(ty), 'R(spearman)=' + r_values[i + 3], ha='left', va='center', fontsize=11.3, fontweight='bold')
    fig.add_artist(Line2D([fx(dx)], [fy(yy)], marker='o', ms=1.5, color=RED, mew=0, alpha=0.75,
                          transform=fig.transFigure))
    fig.text(fx(lx2), fy(yy), 'DAPs_DEGs', ha='left', va='center', fontsize=10.6, fontweight='bold')

fig.savefig('out.png', dpi=100, facecolor='white')
